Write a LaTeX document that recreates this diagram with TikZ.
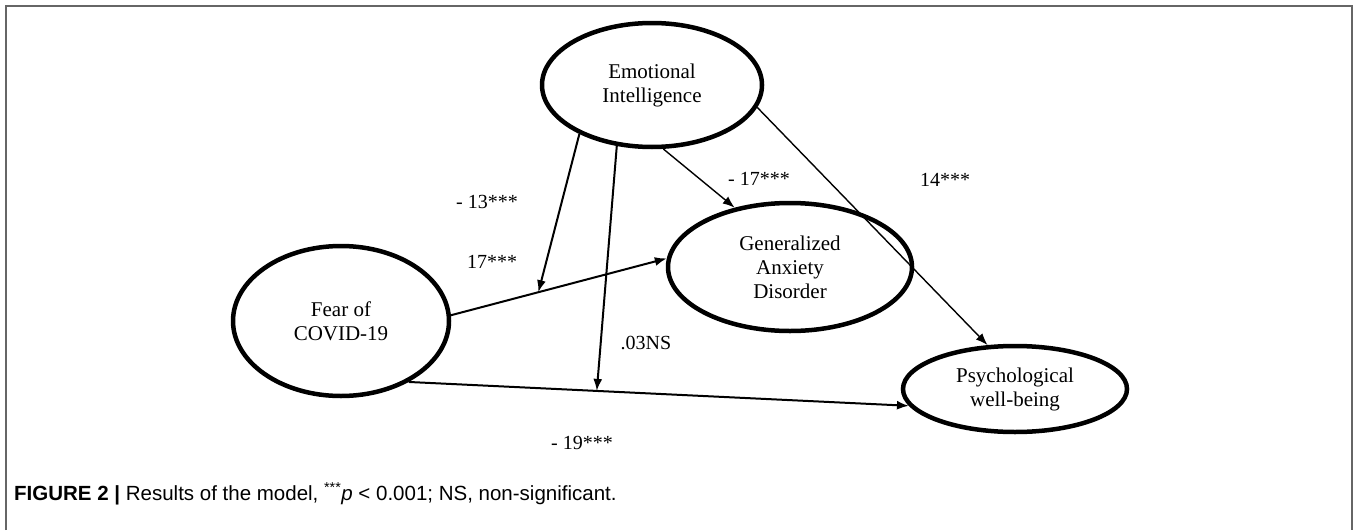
\documentclass[tikz,border=0pt]{standalone}
\usepackage{fontspec}
\setmainfont{Liberation Serif}
\newfontfamily\capfont{Liberation Sans}
\usetikzlibrary{arrows.meta,calc,shapes.geometric}
\begin{document}
\begin{tikzpicture}[x=1pt,y=-1pt,
  latent/.style={ellipse,draw,line width=4.5pt,inner sep=0pt,align=center,
    font=\fontsize{21}{24}\selectfont},
  mainpath/.style={line width=2pt,-{Latex[length=12pt,width=9pt]}},
  thinpath/.style={line width=1.4pt,-{Latex[length=12pt,width=9pt]}},
  coef/.style={font=\fontsize{20}{24}\selectfont,inner sep=0pt},
  frameline/.style={draw=black!60,line width=2pt}]
\useasboundingbox (0,0) rectangle (1357,530);
\draw[frameline] (6,530) -- (6,6) -- (1352,6) -- (1352,530);

\node[latent,minimum width=220pt,minimum height=124pt] (EI) at (652,85) {Emotional\\Intelligence};
\node[latent,minimum width=244pt,minimum height=128pt] (G) at (790,267) {Generalized\\Anxiety\\Disorder};
\node[latent,minimum width=216pt,minimum height=150pt] (F) at (341,321) {Fear of\\COVID-19};
\node[latent,minimum width=224pt,minimum height=86pt] (P) at (1015,389) {Psychological\\well-being};

\coordinate (m1) at ($(F.3)!0.405!(G.176)$);
\coordinate (m2) at ($(F.318)!0.376!(P.189)$);

\draw[mainpath] (F.3) -- (G.176);
\draw[mainpath] (F.318) -- (P.189);
\draw[mainpath] (EI.214) -- (m1);
\draw[mainpath] (EI.240) -- (m2);
\draw[thinpath] (EI.280) -- (G.133);
\draw[thinpath] (EI.348) -- (P.122);

\node[coef] (l1) at (487,202) {- 13***};
\node[coef] (l2) at (492,262) {17***};
\node[coef] (l3) at (759,179) {- 17***};
\node[coef] (l4) at (945,180) {14***};
\node[coef] (l5) at (646,343) {.03NS};
\node[coef] (l6) at (582,443) {- 19***};

\node[anchor=base west,inner sep=0pt,font=\capfont\fontsize{20.5}{24}\selectfont] (cap) at (14,500)
  {\textbf{FIGURE 2 |} Results of the model, \textsuperscript{***}\textit{p} < 0.001; NS, non-significant.};
\end{tikzpicture}
\end{document}
